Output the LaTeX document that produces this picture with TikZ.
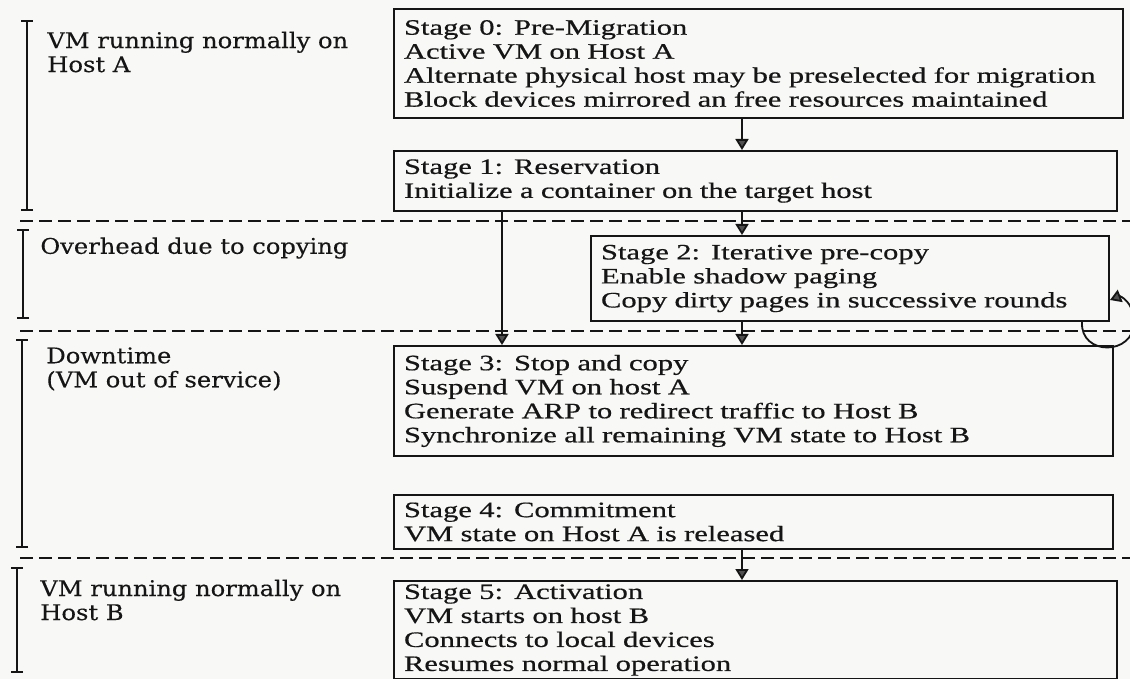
\documentclass[tikz,border=0pt]{standalone}
\usepackage{fontspec}
\setmainfont{Liberation Serif}[FakeStretch=1.39,FakeBold=0.6]
\newfontfamily\labelfont{DejaVu Serif}[FakeStretch=1.12,FakeBold=0.3]
\usetikzlibrary{arrows.meta}
\definecolor{paper}{HTML}{F8F8F6}
\definecolor{ink}{HTML}{151515}
\definecolor{tipfill}{HTML}{505050}
\begin{document}
\begin{tikzpicture}[x=0.5pt,y=-0.5pt,
  stagebox/.style={draw=ink, line width=1pt, anchor=north west, inner xsep=5pt, inner ysep=0pt,
    align=left, font=\fontsize{11}{12}\selectfont, text=ink},
  conn/.style={draw=ink, line width=0.9pt, -{Triangle[width=6.5pt,length=5.5pt,fill=tipfill]}},
  sepline/.style={draw=ink, line width=1pt, dash pattern=on 6.5pt off 3pt},
  spanbar/.style={draw=ink, line width=1.1pt, {Bar[width=6pt]}-{Bar[width=6pt]}},
  lbl/.style={anchor=west, inner sep=0pt, align=left,
    font=\labelfont\fontsize{10.8}{12}\selectfont, text=ink}]
\useasboundingbox (0,0) rectangle (1130,679);
\fill[paper] (0,0) rectangle (1130,679);

% separators
\coordinate (d1l) at (20,221);  \coordinate (d1r) at (1130,221);
\coordinate (d2l) at (20,331);  \coordinate (d2r) at (1130,331);
\coordinate (d3l) at (20,558);  \coordinate (d3r) at (1130,558);
\draw[sepline] (d1l) -- (d1r);
\draw[sepline] (d2l) -- (d2r);
\draw[sepline] (d3l) -- (d3r);

% phase brackets
\coordinate (b1t) at (27,20);  \coordinate (b1b) at (27,211);
\coordinate (b2t) at (23,229); \coordinate (b2b) at (23,319);
\coordinate (b3t) at (22,339); \coordinate (b3b) at (22,548);
\coordinate (b4t) at (17,567); \coordinate (b4b) at (17,673);
\draw[spanbar] (b1t) -- (b1b);
\draw[spanbar] (b2t) -- (b2b);
\draw[spanbar] (b3t) -- (b3b);
\draw[spanbar] (b4t) -- (b4b);

% phase labels
\node[lbl] (l1) at (47,52) {VM running normally on\\Host A};
\node[lbl] (l2) at (40,248) {Overhead due to copying};
\node[lbl] (l3) at (46,369) {Downtime\\(VM out of service)};
\node[lbl] (l4) at (40,600) {VM running normally on\\Host B};

% stage boxes
\node[stagebox, minimum width=364.5pt, minimum height=54.5pt, text width=354.5pt] (s0) at (393,8)
  {\mbox{Stage 0: Pre-Migration}\\\mbox{Active VM on Host A}\\\mbox{Alternate physical host may be preselected for migration}\\\mbox{Block devices mirrored an free resources maintained}};
\node[stagebox, minimum width=361.5pt, minimum height=30pt, text width=351.5pt] (s1) at (393,150)
  {\mbox{Stage 1: Reservation}\\\mbox{Initialize a container on the target host}};
\node[stagebox, minimum width=259pt, minimum height=42.5pt, text width=249pt] (s2) at (590,235)
  {\mbox{Stage 2: Iterative pre-copy}\\\mbox{Enable shadow paging}\\\mbox{Copy dirty pages in successive rounds}};
\node[stagebox, minimum width=359.5pt, minimum height=55pt, text width=349.5pt] (s3) at (393,345)
  {\mbox{Stage 3: Stop and copy}\\\mbox{Suspend VM on host A}\\\mbox{Generate ARP to redirect traffic to Host B}\\\mbox{Synchronize all remaining VM state to Host B}};
\node[stagebox, minimum width=359.5pt, minimum height=27pt, text width=349.5pt] (s4) at (393,494)
  {\mbox{Stage 4: Commitment}\\\mbox{VM state on Host A is released}};
\node[stagebox, minimum width=361.5pt, minimum height=49pt, text width=351.5pt] (s5) at (393,580)
  {\mbox{Stage 5: Activation}\\\mbox{VM starts on host B}\\\mbox{Connects to local devices}\\\mbox{Resumes normal operation}};

% connectors
\coordinate (ax) at (742,0);
\coordinate (bx) at (502,0);
\draw[conn] (s0.south -| ax) -- (s1.north -| ax);
\draw[conn] (s1.south -| ax) -- (s2.north -| ax);
\draw[conn] (s1.south -| bx) -- (s3.north -| bx);
\draw[conn] (s2.south -| ax) -- (s3.north -| ax);
\draw[conn] (s4.south -| ax) -- (s5.north -| ax);

% iteration loop on stage 2
\coordinate (lpx) at (1082,0);
\coordinate (lpy) at (0,300);
\draw[conn] (s2.south -| lpx) .. controls (1080,356) and (1134,356) .. (1134,322)
  .. controls (1134,302) and (1120,296) .. (s2.east |- lpy);
\end{tikzpicture}
\end{document}
